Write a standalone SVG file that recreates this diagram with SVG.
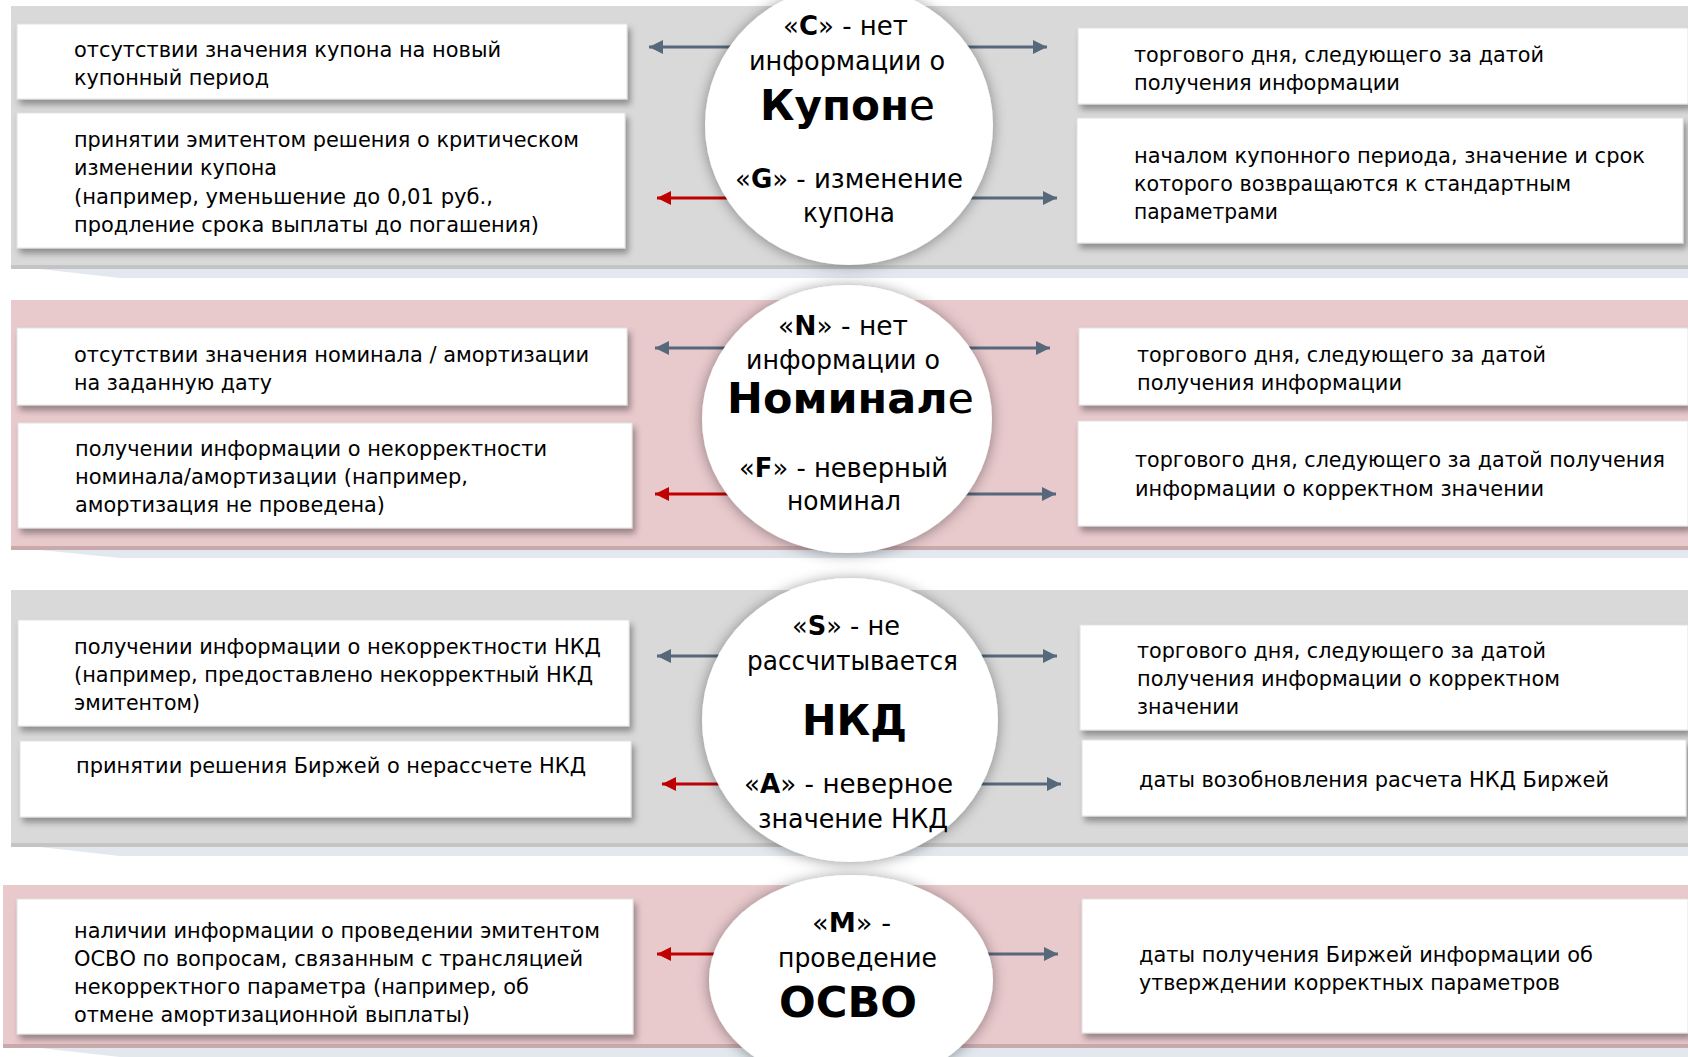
<svg xmlns="http://www.w3.org/2000/svg" width="1688" height="1057" viewBox="0 0 1688 1057">
<defs>
<filter id="bs" x="-5%" y="-20%" width="112%" height="150%">
<feDropShadow dx="3" dy="5" stdDeviation="3" flood-color="#000" flood-opacity="0.35"/>
</filter>
<filter id="cs" x="-20%" y="-20%" width="140%" height="140%">
<feDropShadow dx="0" dy="1" stdDeviation="7" flood-color="#000" flood-opacity="0.4"/>
</filter>
<marker id="mg" markerUnits="userSpaceOnUse" markerWidth="14" markerHeight="14" refX="14" refY="7" orient="auto">
<path d="M0,0 L14,7 L0,14 z" fill="#56687a"/>
</marker>
<marker id="mr" markerUnits="userSpaceOnUse" markerWidth="14" markerHeight="14" refX="14" refY="7" orient="auto">
<path d="M0,0 L14,7 L0,14 z" fill="#c00000"/>
</marker>
</defs>
<style>
.bt{font-family:"DejaVu Sans","Liberation Sans",sans-serif;font-size:22px;fill:#000}
.ct{font-family:"DejaVu Sans","Liberation Sans",sans-serif;font-size:27px;fill:#000}
.tt{font-family:"DejaVu Sans","Liberation Sans",sans-serif;font-size:42px;font-weight:bold;fill:#000}
.b{font-weight:bold}
.n{font-weight:normal}
.box{fill:#fff;stroke:#e2e2e2;stroke-width:1;filter:url(#bs)}
.circ{fill:#fff;filter:url(#cs)}
.ag{stroke:#56687a;stroke-width:3;fill:none;marker-end:url(#mg)}
.ar{stroke:#c00000;stroke-width:3;fill:none;marker-end:url(#mr)}
.gray{fill:#d9d9d9}
.pink{fill:#e8c9cc}
.sh{fill:#e2e8ee}
</style>
<rect width="1688" height="1057" fill="#fff"/>
<g id="bands">
<rect class="gray" x="11" y="6" width="1677" height="263"/>
<rect x="11" y="265" width="1677" height="4" fill="#c4c4c4"/>
<polygon class="sh" points="40,269 1688,269 1688,278 120,278"/>
<rect class="pink" x="11" y="300" width="1677" height="250"/>
<rect x="11" y="546" width="1677" height="4" fill="#c9a9ac"/>
<polygon class="sh" points="40,550 1688,550 1688,558 120,558"/>
<rect class="gray" x="11" y="590" width="1677" height="257"/>
<rect x="11" y="843" width="1677" height="4" fill="#c4c4c4"/>
<polygon class="sh" points="40,847 1688,847 1688,856 120,856"/>
<rect class="pink" x="3" y="885" width="1685" height="163"/>
<rect x="3" y="1044" width="1685" height="4" fill="#c9a9ac"/>
<polygon class="sh" points="40,1048 1688,1048 1688,1057 120,1057"/>
</g>
<g id="connectors">
<line class="ag" x1="800" y1="47" x2="649" y2="47"/>
<line class="ag" x1="900" y1="47" x2="1047" y2="47"/>
<line class="ar" x1="800" y1="198" x2="657" y2="198"/>
<line class="ag" x1="900" y1="198" x2="1057" y2="198"/>
<line class="ag" x1="800" y1="348" x2="655" y2="348"/>
<line class="ag" x1="900" y1="348" x2="1050" y2="348"/>
<line class="ar" x1="800" y1="494" x2="655" y2="494"/>
<line class="ag" x1="900" y1="494" x2="1056" y2="494"/>
<line class="ag" x1="800" y1="656" x2="657" y2="656"/>
<line class="ag" x1="900" y1="656" x2="1057" y2="656"/>
<line class="ar" x1="800" y1="784" x2="662" y2="784"/>
<line class="ag" x1="900" y1="784" x2="1061" y2="784"/>
<line class="ar" x1="800" y1="954" x2="657" y2="954"/>
<line class="ag" x1="900" y1="954" x2="1058" y2="954"/>
</g>
<g id="circle-coupon">
<ellipse class="circ" cx="849" cy="125" rx="144" ry="140"/>
<text class="ct" x="783" y="35" textLength="125" lengthAdjust="spacingAndGlyphs">«<tspan class="b">C</tspan>» - нет</text>
<text class="ct" x="749" y="70" textLength="196" lengthAdjust="spacingAndGlyphs">информации о</text>
<text class="tt" x="760" y="120" textLength="175" lengthAdjust="spacingAndGlyphs">Купон<tspan class="n">е</tspan></text>
<text class="ct" x="735" y="188" textLength="228" lengthAdjust="spacingAndGlyphs">«<tspan class="b">G</tspan>» - изменение</text>
<text class="ct" x="803" y="222" textLength="92" lengthAdjust="spacingAndGlyphs">купона</text>
</g>
<g id="circle-nominal">
<ellipse class="circ" cx="847" cy="419" rx="145" ry="134"/>
<text class="ct" x="778" y="335" textLength="130" lengthAdjust="spacingAndGlyphs">«<tspan class="b">N</tspan>» - нет</text>
<text class="ct" x="746" y="369" textLength="194" lengthAdjust="spacingAndGlyphs">информации о</text>
<text class="tt" x="727" y="413" font-size="38" textLength="247" lengthAdjust="spacingAndGlyphs">Номинал<tspan class="n">е</tspan></text>
<text class="ct" x="739" y="477" textLength="209" lengthAdjust="spacingAndGlyphs">«<tspan class="b">F</tspan>» - неверный</text>
<text class="ct" x="787" y="510" textLength="114" lengthAdjust="spacingAndGlyphs">номинал</text>
</g>
<g id="circle-nkd">
<ellipse class="circ" cx="850" cy="720" rx="148" ry="142"/>
<text class="ct" x="792" y="635" textLength="108" lengthAdjust="spacingAndGlyphs">«<tspan class="b">S</tspan>» - не</text>
<text class="ct" x="747" y="670" textLength="211" lengthAdjust="spacingAndGlyphs">рассчитывается</text>
<text class="tt" x="802" y="735" font-size="46" textLength="105" lengthAdjust="spacingAndGlyphs">НКД</text>
<text class="ct" x="744" y="793" textLength="209" lengthAdjust="spacingAndGlyphs">«<tspan class="b">A</tspan>» - неверное</text>
<text class="ct" x="758" y="828" textLength="190" lengthAdjust="spacingAndGlyphs">значение НКД</text>
</g>
<g id="circle-osvo">
<ellipse class="circ" cx="851" cy="980" rx="142" ry="105"/>
<text class="ct" x="812" y="932" textLength="79" lengthAdjust="spacingAndGlyphs">«<tspan class="b">M</tspan>» -</text>
<text class="ct" x="778" y="967" textLength="159" lengthAdjust="spacingAndGlyphs">проведение</text>
<text class="tt" x="779" y="1017" textLength="138" lengthAdjust="spacingAndGlyphs">ОСВО</text>
</g>
<g id="box-l1">
<rect class="box" x="17" y="24" width="610" height="75"/>
<text class="bt" x="74" y="57" textLength="427" lengthAdjust="spacingAndGlyphs">отсутствии значения купона на новый</text>
<text class="bt" x="74" y="85" textLength="195" lengthAdjust="spacingAndGlyphs">купонный период</text>
</g>
<g id="box-l2">
<rect class="box" x="17" y="113" width="608" height="135"/>
<text class="bt" x="74" y="147" textLength="505" lengthAdjust="spacingAndGlyphs">принятии эмитентом решения о критическом</text>
<text class="bt" x="74" y="175" textLength="203" lengthAdjust="spacingAndGlyphs">изменении купона</text>
<text class="bt" x="74" y="204" textLength="419" lengthAdjust="spacingAndGlyphs">(например, уменьшение до 0,01 руб.,</text>
<text class="bt" x="74" y="232" textLength="465" lengthAdjust="spacingAndGlyphs">продление срока выплаты до погашения)</text>
</g>
<g id="box-r1">
<rect class="box" x="1078" y="28" width="610" height="76"/>
<text class="bt" x="1134" y="62" textLength="410" lengthAdjust="spacingAndGlyphs">торгового дня, следующего за датой</text>
<text class="bt" x="1134" y="90" textLength="266" lengthAdjust="spacingAndGlyphs">получения информации</text>
</g>
<g id="box-r2">
<rect class="box" x="1077" y="118" width="606" height="125"/>
<text class="bt" x="1134" y="163" textLength="511" lengthAdjust="spacingAndGlyphs">началом купонного периода, значение и срок</text>
<text class="bt" x="1134" y="191" textLength="437" lengthAdjust="spacingAndGlyphs">которого возвращаются к стандартным</text>
<text class="bt" x="1134" y="219" textLength="144" lengthAdjust="spacingAndGlyphs">параметрами</text>
</g>
<g id="box-l3">
<rect class="box" x="17" y="328" width="610" height="77"/>
<text class="bt" x="74" y="362" textLength="515" lengthAdjust="spacingAndGlyphs">отсутствии значения номинала / амортизации</text>
<text class="bt" x="74" y="390" textLength="198" lengthAdjust="spacingAndGlyphs">на заданную дату</text>
</g>
<g id="box-l4">
<rect class="box" x="18" y="423" width="614" height="105"/>
<text class="bt" x="75" y="456" textLength="472" lengthAdjust="spacingAndGlyphs">получении информации о некорректности</text>
<text class="bt" x="75" y="484" textLength="393" lengthAdjust="spacingAndGlyphs">номинала/амортизации (например,</text>
<text class="bt" x="75" y="512" textLength="310" lengthAdjust="spacingAndGlyphs">амортизация не проведена)</text>
</g>
<g id="box-r3">
<rect class="box" x="1079" y="328" width="609" height="77"/>
<text class="bt" x="1137" y="362" textLength="409" lengthAdjust="spacingAndGlyphs">торгового дня, следующего за датой</text>
<text class="bt" x="1137" y="390" textLength="265" lengthAdjust="spacingAndGlyphs">получения информации</text>
</g>
<g id="box-r4">
<rect class="box" x="1078" y="421" width="610" height="105"/>
<text class="bt" x="1135" y="467" font-size="18.5" textLength="530" lengthAdjust="spacingAndGlyphs">торгового дня, следующего за датой получения</text>
<text class="bt" x="1135" y="496" textLength="409" lengthAdjust="spacingAndGlyphs">информации о корректном значении</text>
</g>
<g id="box-l5">
<rect class="box" x="18" y="620" width="611" height="106"/>
<text class="bt" x="74" y="654" textLength="527" lengthAdjust="spacingAndGlyphs">получении информации о некорректности НКД</text>
<text class="bt" x="74" y="682" textLength="519" lengthAdjust="spacingAndGlyphs">(например, предоставлено некорректный НКД</text>
<text class="bt" x="74" y="710" textLength="126" lengthAdjust="spacingAndGlyphs">эмитентом)</text>
</g>
<g id="box-l6">
<rect class="box" x="20" y="741" width="611" height="76"/>
<text class="bt" x="76" y="773" textLength="510" lengthAdjust="spacingAndGlyphs">принятии решения Биржей о нерассчете НКД</text>
</g>
<g id="box-r5">
<rect class="box" x="1080" y="625" width="608" height="105"/>
<text class="bt" x="1137" y="658" textLength="409" lengthAdjust="spacingAndGlyphs">торгового дня, следующего за датой</text>
<text class="bt" x="1137" y="686" textLength="423" lengthAdjust="spacingAndGlyphs">получения информации о корректном</text>
<text class="bt" x="1137" y="714" textLength="102" lengthAdjust="spacingAndGlyphs">значении</text>
</g>
<g id="box-r6">
<rect class="box" x="1082" y="740" width="604" height="76"/>
<text class="bt" x="1139" y="787" textLength="470" lengthAdjust="spacingAndGlyphs">даты возобновления расчета НКД Биржей</text>
</g>
<g id="box-l7">
<rect class="box" x="17" y="899" width="616" height="135"/>
<text class="bt" x="74" y="938" textLength="526" lengthAdjust="spacingAndGlyphs">наличии информации о проведении эмитентом</text>
<text class="bt" x="74" y="966" textLength="509" lengthAdjust="spacingAndGlyphs">ОСВО по вопросам, связанным с трансляцией</text>
<text class="bt" x="74" y="994" textLength="455" lengthAdjust="spacingAndGlyphs">некорректного параметра (например, об</text>
<text class="bt" x="74" y="1022" textLength="396" lengthAdjust="spacingAndGlyphs">отмене амортизационной выплаты)</text>
</g>
<g id="box-r7">
<rect class="box" x="1082" y="899" width="606" height="134"/>
<text class="bt" x="1139" y="962" textLength="454" lengthAdjust="spacingAndGlyphs">даты получения Биржей информации об</text>
<text class="bt" x="1139" y="990" textLength="421" lengthAdjust="spacingAndGlyphs">утверждении корректных параметров</text>
</g>
</svg>
